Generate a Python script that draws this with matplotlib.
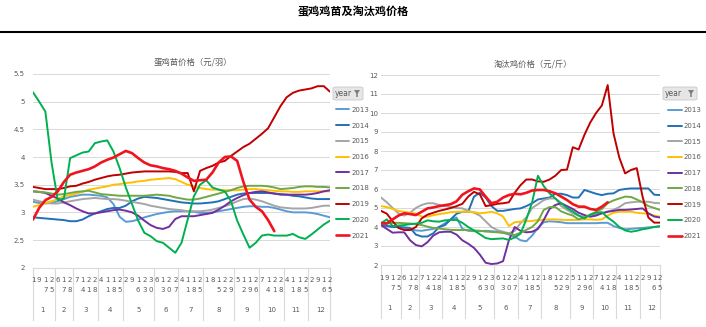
import numpy as np
import matplotlib.pyplot as plt
import matplotlib.transforms as mtransforms
from matplotlib.patches import FancyBboxPatch, Polygon

plt.rcParams['font.family'] = ['Noto Sans CJK SC', 'DejaVu Sans']

years = ['2013', '2014', '2015', '2016', '2017', '2018', '2019', '2020', '2021']
colors = ['#5B9BD5', '#2270B8', '#A5A5A5', '#FFC000', '#7030A0',
          '#70A844', '#C00000', '#00B050', '#F0141E']
months = [str(m) for m in range(1, 13)]
days_by_month = [[1, 9, 17, 25], [6, 17, 28], [7, 14, 21, 28], [4, 11, 18, 25],
                 [2, 9, 16, 23, 30], [6, 13, 20, 27], [4, 11, 18, 25],
                 [1, 8, 15, 22, 29], [5, 12, 19, 26], [7, 14, 21, 28],
                 [4, 11, 18, 25], [2, 9, 16, 25]]

# 蛋鸡苗价格 (元/羽)
chick_2013 = [3.19, 3.17, 3.16, 3.17, 3.2, 3.24, 3.28, 3.3, 3.32, 3.32, 3.31, 3.3, 3.27, 3.15, 2.92, 2.83,
              2.84, 2.87, 2.91, 2.94, 2.97, 2.99, 3.01, 3.02, 3.02, 3.02, 3.01, 2.99, 2.99, 3.0, 3.02, 3.04,
              3.06, 3.08, 3.1, 3.11, 3.11, 3.1, 3.1, 3.08, 3.05, 3.02, 3.0, 3.0, 3.0, 2.99, 2.97, 2.94, 2.91]
chick_2014 = [2.91, 2.9, 2.89, 2.88, 2.87, 2.86, 2.84, 2.84, 2.87, 2.93, 2.98, 3.02, 3.06, 3.08, 3.08, 3.12,
              3.2, 3.25, 3.28, 3.27, 3.26, 3.24, 3.22, 3.2, 3.18, 3.17, 3.16, 3.16, 3.17, 3.18, 3.2, 3.24,
              3.28, 3.32, 3.34, 3.35, 3.35, 3.35, 3.35, 3.34, 3.33, 3.32, 3.3, 3.29, 3.27, 3.25, 3.24, 3.24, 3.24]
chick_2015 = [3.23, 3.2, 3.18, 3.16, 3.16, 3.18, 3.2, 3.22, 3.24, 3.25, 3.26, 3.25, 3.24, 3.24, 3.23, 3.21,
              3.19, 3.17, 3.15, 3.12, 3.1, 3.08, 3.06, 3.05, 3.04, 3.02, 3.02, 3.02, 3.03, 3.05, 3.08, 3.11,
              3.15, 3.2, 3.24, 3.25, 3.23, 3.2, 3.16, 3.12, 3.09, 3.08, 3.07, 3.07, 3.07, 3.08, 3.1, 3.12, 3.12]
chick_2016 = [3.1, 3.13, 3.17, 3.2, 3.24, 3.29, 3.31, 3.34, 3.37, 3.41, 3.43, 3.45, 3.47, 3.5, 3.51, 3.53,
              3.54, 3.56, 3.57, 3.59, 3.6, 3.61, 3.62, 3.6, 3.55, 3.5, 3.47, 3.44, 3.42, 3.41, 3.41, 3.4,
              3.4, 3.4, 3.41, 3.42, 3.42, 3.41, 3.4, 3.39, 3.38, 3.38, 3.37, 3.37, 3.38, 3.38, 3.38, 3.38, 3.38]
chick_2017 = [3.38, 3.37, 3.35, 3.3, 3.25, 3.18, 3.13, 3.07, 3.02, 2.98, 2.98, 3.0, 3.02, 3.04, 3.05, 3.03,
              3.0, 2.94, 2.85, 2.77, 2.72, 2.7, 2.74, 2.88, 2.93, 2.93, 2.93, 2.95, 2.97, 2.99, 3.05, 3.12,
              3.2, 3.26, 3.31, 3.35, 3.37, 3.38, 3.36, 3.34, 3.32, 3.32, 3.32, 3.32, 3.32, 3.33, 3.35, 3.38, 3.4]
chick_2018 = [3.38, 3.37, 3.36, 3.34, 3.32, 3.33, 3.35, 3.37, 3.38, 3.39, 3.36, 3.33, 3.32, 3.31, 3.3, 3.3,
              3.3, 3.3, 3.3, 3.31, 3.32, 3.31, 3.3, 3.27, 3.25, 3.23, 3.23, 3.25, 3.28, 3.31, 3.34, 3.37,
              3.4, 3.44, 3.47, 3.48, 3.48, 3.48, 3.47, 3.45, 3.42, 3.43, 3.44, 3.46, 3.47, 3.47, 3.46, 3.46, 3.45]
chick_2019 = [3.46, 3.44, 3.42, 3.42, 3.42, 3.44, 3.47, 3.48, 3.52, 3.55, 3.59, 3.62, 3.65, 3.67, 3.68, 3.7,
              3.72, 3.73, 3.74, 3.74, 3.74, 3.74, 3.74, 3.73, 3.71, 3.71, 3.38, 3.75, 3.8, 3.84, 3.9, 3.93,
              4.02, 4.1, 4.18, 4.24, 4.33, 4.42, 4.52, 4.72, 4.92, 5.08, 5.16, 5.2, 5.22, 5.24, 5.28, 5.28, 5.18]
chick_2020 = [5.17, 5.0, 4.82, 3.9, 3.22, 3.25, 3.98, 4.03, 4.08, 4.1, 4.25, 4.28, 4.3, 4.1, 3.8, 3.45,
              3.15, 2.85, 2.63, 2.57, 2.48, 2.45, 2.36, 2.27, 2.45, 2.87, 3.29, 3.5, 3.58, 3.45, 3.41, 3.38,
              3.2, 2.85, 2.6, 2.36, 2.45, 2.58, 2.6, 2.58, 2.58, 2.58, 2.61, 2.55, 2.52, 2.6, 2.69, 2.78, 2.85]
chick_2021 = [2.87, 3.08, 3.22, 3.28, 3.38, 3.55, 3.68, 3.72, 3.75, 3.78, 3.83, 3.9, 3.95, 3.99, 4.05, 4.11,
              4.07, 3.98, 3.9, 3.85, 3.83, 3.8, 3.78, 3.75, 3.7, 3.63, 3.57, 3.58, 3.59, 3.72, 3.9, 4.0,
              4.01, 3.93, 3.55, 3.23, 3.1, 3.02, 2.86, 2.66]

# 淘汰鸡价格 (元/斤)
hen_2013 = [4.2, 4.1, 4.0, 4.0, 3.95, 3.9, 3.82, 3.8, 3.85, 3.9, 4.0, 4.2, 4.4, 4.5, 3.9, 3.8,
            3.78, 3.78, 3.8, 3.78, 3.75, 3.7, 3.6, 3.5, 3.3, 3.25, 3.55, 3.95, 4.25, 4.3, 4.28, 4.25,
            4.2, 4.2, 4.2, 4.2, 4.2, 4.2, 4.22, 4.22, 4.05, 3.95, 3.88, 3.9, 3.93, 3.95, 3.98, 4.0, 4.02]
hen_2014 = [4.1, 4.05, 4.0, 4.0, 3.98, 3.95, 3.6, 3.5, 3.5, 3.67, 4.0, 4.1, 4.4, 4.7, 4.8, 4.8,
            5.6, 5.8, 5.55, 5.1, 4.85, 4.85, 4.9, 4.95, 4.98, 5.1, 5.25, 5.45, 5.5, 5.55, 5.75, 5.75,
            5.68, 5.55, 5.55, 5.95, 5.85, 5.75, 5.68, 5.75, 5.77, 5.95, 6.0, 6.03, 6.03, 6.03, 6.03, 5.7, 5.68]
hen_2015 = [5.55, 5.3, 5.0, 4.72, 4.6, 4.75, 5.0, 5.16, 5.25, 5.25, 5.16, 5.1, 5.05, 5.0, 4.98, 4.85,
            4.75, 4.6, 4.3, 4.0, 3.84, 3.75, 3.67, 3.8, 4.2, 4.5, 5.0, 5.2, 5.42, 5.5, 5.5, 5.1,
            4.9, 4.72, 4.6, 4.54, 4.6, 4.68, 4.72, 4.82, 4.9, 5.05, 5.25, 5.3, 5.33, 5.33, 5.33, 5.27, 5.25]
hen_2016 = [5.1, 5.05, 4.95, 4.85, 4.8, 4.75, 4.7, 4.55, 4.55, 4.62, 4.68, 4.72, 4.78, 4.8, 4.8, 4.8,
            4.78, 4.72, 4.75, 4.8, 4.72, 4.55, 4.05, 4.25, 4.28, 4.3, 4.32, 4.37, 4.38, 4.4, 4.4, 4.38,
            4.37, 4.37, 4.38, 4.4, 4.4, 4.38, 4.4, 4.6, 4.75, 4.8, 4.8, 4.8, 4.75, 4.72, 4.7, 4.6, 4.54]
hen_2017 = [4.1, 3.9, 3.7, 3.72, 3.72, 3.3, 3.05, 2.98, 3.2, 3.55, 3.72, 3.75, 3.75, 3.6, 3.3, 3.12,
            2.9, 2.55, 2.12, 2.05, 2.08, 2.2, 3.3, 4.0, 3.8, 3.72, 3.75, 3.9, 4.37, 4.95, 5.16, 5.25,
            5.1, 4.95, 4.75, 4.63, 4.54, 4.6, 4.72, 4.8, 4.85, 4.9, 4.9, 4.92, 4.95, 4.98, 4.72, 4.55, 4.5]
hen_2018 = [4.2, 4.2, 4.22, 4.22, 4.2, 4.18, 4.15, 4.1, 4.02, 3.95, 3.92, 3.88, 3.85, 3.84, 3.84, 3.84,
            3.82, 3.8, 3.76, 3.74, 3.72, 3.7, 3.65, 3.58, 3.7, 3.85, 4.0, 4.3, 4.9, 5.05, 5.05, 4.82,
            4.7, 4.6, 4.4, 4.5, 4.65, 4.8, 4.95, 5.25, 5.4, 5.5, 5.6, 5.58, 5.45, 5.3, 5.1, 5.0, 4.9]
hen_2019 = [4.85, 4.7, 4.3, 3.95, 3.84, 3.84, 4.0, 4.45, 4.65, 4.75, 4.85, 4.92, 5.0, 5.1, 5.22, 5.6,
            5.85, 5.72, 5.1, 5.15, 5.22, 5.25, 5.3, 5.8, 6.2, 6.5, 6.5, 6.4, 6.38, 6.5, 6.7, 7.0,
            7.02, 8.2, 8.08, 8.85, 9.5, 10.0, 10.4, 11.47, 8.93, 7.65, 6.82, 7.0, 7.1, 5.6, 4.5, 4.23, 4.23]
hen_2020 = [4.2, 4.4, 4.05, 4.08, 4.1, 4.15, 4.18, 4.22, 4.35, 4.3, 4.28, 4.35, 4.37, 4.37, 4.22, 4.0,
            3.82, 3.62, 3.42, 3.36, 3.38, 3.4, 3.32, 3.45, 3.65, 4.4, 5.3, 6.7, 6.15, 5.77, 5.5, 5.25,
            5.0, 4.82, 4.6, 4.45, 4.65, 4.75, 4.78, 4.5, 4.28, 4.0, 3.82, 3.75, 3.8, 3.88, 3.93, 4.0, 4.05]
hen_2021 = [4.2, 4.19, 4.4, 4.6, 4.72, 4.68, 4.63, 4.8, 4.98, 5.03, 5.1, 5.15, 5.2, 5.35, 5.7, 5.88,
            6.03, 5.98, 5.6, 5.25, 5.33, 5.55, 5.68, 5.75, 5.72, 5.8, 5.92, 5.95, 5.95, 5.88, 5.77, 5.6,
            5.42, 5.2, 5.07, 5.07, 4.95, 4.9, 5.07, 5.3]

chick_series = [chick_2013, chick_2014, chick_2015, chick_2016, chick_2017,
                chick_2018, chick_2019, chick_2020, chick_2021]
hen_series = [hen_2013, hen_2014, hen_2015, hen_2016, hen_2017,
              hen_2018, hen_2019, hen_2020, hen_2021]

n_cat = sum(len(d) for d in days_by_month)
TXT = '#595959'
GRID = '#D9D9D9'
NUM_FONT = ['Liberation Sans Narrow', 'DejaVu Sans']


def pad(vals):
    out = np.full(n_cat, np.nan)
    out[:len(vals)] = vals
    return out


def category_axis(ax, r1, r2, r3, bottom):
    trans = mtransforms.blended_transform_factory(ax.transData, ax.transAxes)
    i = 0
    bounds = [0]
    for m, days in zip(months, days_by_month):
        start = i
        for d in days:
            s = str(d)
            ax.text(i, r1, s[0], transform=trans, ha='center', va='center',
                    fontsize=5, color=TXT, family=NUM_FONT)
            if len(s) > 1:
                ax.text(i, r2, s[1], transform=trans, ha='center', va='center',
                        fontsize=5, color=TXT, family=NUM_FONT)
            i += 1
        ax.text((start + i - 1) / 2, r3, m, transform=trans, ha='center', va='center',
                fontsize=5, color=TXT, family=NUM_FONT)
        bounds.append(i - 0.5)
    bounds[-1] = n_cat - 1
    for b in bounds:
        ax.plot([b, b], [0, bottom], transform=trans, clip_on=False, color=GRID, lw=0.8)


def year_button(fig, x0, y0, w, h):
    fig.patches.append(FancyBboxPatch((x0 / 706, 1 - (y0 + h) / 327), w / 706, h / 327,
                                      boxstyle='round,pad=0,rounding_size=0.004',
                                      transform=fig.transFigure, facecolor='#E6E6E6',
                                      edgecolor='#C8C8C8', lw=0.6))
    fig.text((x0 + 2) / 706, 1 - (y0 + h / 2) / 327, 'year', fontsize=5.5, color=TXT,
             ha='left', va='center', family=NUM_FONT)
    fx = x0 + w - 6
    fy = y0 + 3
    funnel = [(fx - 3, fy), (fx + 3, fy), (fx + 0.8, fy + 3.5), (fx + 0.8, fy + 7),
              (fx - 0.8, fy + 7), (fx - 0.8, fy + 3.5)]
    fig.patches.append(Polygon([(px / 706, 1 - py / 327) for px, py in funnel],
                               closed=True, transform=fig.transFigure,
                               facecolor='#7F7F7F', edgecolor='none'))


def panel(fig, rect, series, ylim, yticks, yfmt, title, title_x, legend_x, ypad):
    ax = fig.add_axes(rect)
    x = np.arange(n_cat)
    for vals, c, yr in zip(series, colors, years):
        lw = 1.9 if yr == '2021' else 1.4
        ax.plot(x, pad(vals), color=c, lw=lw, label=yr, solid_capstyle='round')
    ax.set_xlim(0, n_cat - 1)
    ax.set_ylim(*ylim)
    ax.set_yticks(yticks)
    ax.set_yticklabels([yfmt(t) for t in yticks], fontsize=5, color=TXT, family=NUM_FONT)
    ax.set_xticks([])
    ax.tick_params(axis='y', length=0, pad=ypad)
    ax.grid(axis='y', color=GRID, lw=0.7)
    ax.set_axisbelow(True)
    for s in ['top', 'right', 'left']:
        ax.spines[s].set_visible(False)
    ax.spines['bottom'].set_color(GRID)
    ax.spines['bottom'].set_linewidth(0.8)
    ax.text(title_x, 1.06, title, transform=ax.transAxes, ha='center', va='center',
            fontsize=6, color=TXT)
    leg = ax.legend(loc='upper left', bbox_to_anchor=(legend_x, 0.845), frameon=False,
                    handlelength=1.9, handletextpad=0.3, labelspacing=1.4,
                    borderaxespad=0, prop={'family': NUM_FONT, 'size': 5})
    for t in leg.get_texts():
        t.set_color(TXT)
    return ax


fig = plt.figure(figsize=(7.06, 3.27), dpi=100)
fig.text(0.5, 0.963, '蛋鸡鸡苗及淘汰鸡价格', ha='center', va='center',
         fontsize=8, fontweight='bold', color='black')
fig.add_artist(plt.Line2D([0, 1], [1 - 32 / 327, 1 - 32 / 327], transform=fig.transFigure,
                          color='black', lw=1.5))

ax1 = panel(fig, [33 / 706, 1 - 267.7 / 327, 297 / 706, 193.7 / 327], chick_series,
            (2, 5.5), [2, 2.5, 3, 3.5, 4, 4.5, 5, 5.5],
            lambda t: ('%g' % t), '蛋鸡苗价格（元/羽）', 0.54, 1.01, 6)
category_axis(ax1, -0.065, -0.115, -0.218, -0.27)

ax2 = panel(fig, [381 / 706, 1 - 265 / 327, 279 / 706, 190 / 327], hen_series,
            (2, 12), list(range(2, 13)),
            lambda t: str(t), '淘汰鸡价格（元/斤）', 0.545, 1.02, 2)
category_axis(ax2, -0.07, -0.122, -0.228, -0.28)

year_button(fig, 333, 87, 30, 13)
year_button(fig, 663, 87, 34, 13)

fig.savefig('out.png', dpi=100, facecolor='white')
